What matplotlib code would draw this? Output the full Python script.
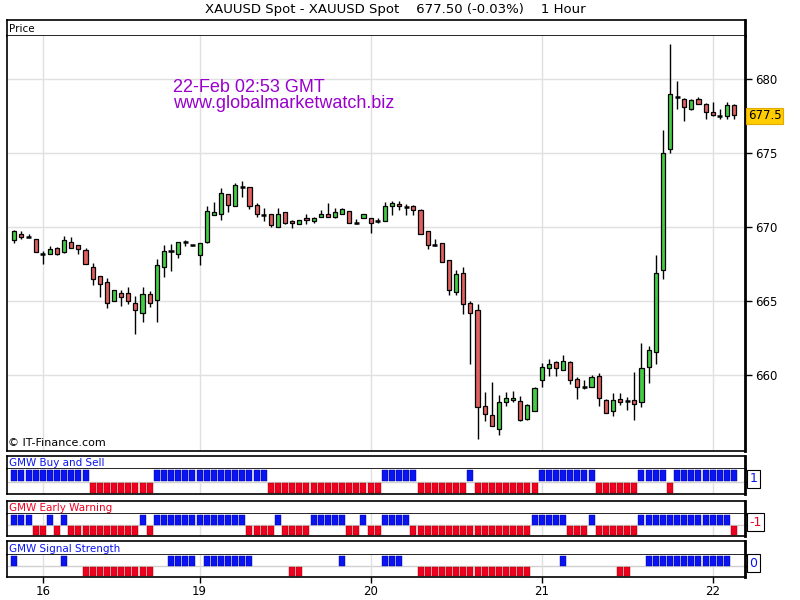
import matplotlib
matplotlib.use("Agg")
import matplotlib.pyplot as plt
from matplotlib.patches import Rectangle
import matplotlib.transforms as mtransforms

plt.rcParams['font.family'] = ['DejaVu Sans']

# ---------------- data ----------------
opens = [669.13, 669.53, 669.36, 669.20, 668.20, 668.20, 668.60, 668.31, 668.96, 668.76,
         668.42, 667.33, 666.67, 666.27, 665.00, 665.53, 665.53, 664.87, 664.20, 665.47,
         665.07, 667.33, 668.36, 668.20, 668.96, 668.76, 668.11, 668.96, 670.81, 670.88,
         672.23, 671.42, 672.70, 672.70, 671.49, 670.83, 670.88, 669.98, 671.01, 670.41,
         670.20, 670.61, 670.41, 670.68, 670.88, 670.68, 670.88, 671.08, 670.27, 670.61,
         670.61, 670.43, 670.40, 671.44, 671.56, 671.38, 671.44, 671.18, 669.71, 668.76,
         668.91, 667.78, 665.64, 666.93, 664.84, 664.38, 657.89, 657.28, 656.37, 658.22,
         658.29, 658.27, 657.05, 657.59, 659.68, 660.50, 660.92, 660.36, 660.92, 659.75,
         659.23, 659.19, 659.95, 658.29, 657.57, 658.42, 658.24, 658.29, 658.18, 660.54,
         661.55, 667.11, 675.28, 678.79, 678.63, 678.00, 678.63, 678.31, 677.77, 677.52,
         677.48, 678.27]
highs = [669.80, 669.73, 669.53, 669.22, 668.36, 668.73, 668.62, 669.42, 669.36, 668.80,
         668.56, 667.56, 666.67, 666.56, 665.73, 665.76, 665.96, 665.33, 665.96, 665.69,
         667.82, 668.76, 668.84, 669.00, 669.16, 668.82, 668.94, 671.44, 671.71, 672.66,
         672.23, 672.97, 673.10, 672.70, 671.62, 671.28, 670.90, 671.28, 671.03, 670.45,
         670.47, 670.90, 670.68, 671.15, 671.62, 671.28, 671.28, 671.10, 670.54, 670.90,
         670.63, 670.61, 671.70, 671.78, 671.78, 671.58, 671.46, 671.24, 669.73, 669.18,
         668.93, 667.80, 667.07, 667.33, 665.00, 664.78, 658.83, 659.53, 658.63, 658.83,
         658.90, 658.60, 658.02, 659.23, 660.79, 661.10, 660.94, 661.33, 660.94, 659.89,
         659.70, 659.98, 660.16, 658.40, 658.81, 658.81, 658.54, 660.20, 662.16, 661.98,
         668.08, 676.56, 682.36, 679.86, 678.70, 678.63, 678.81, 678.40, 678.45, 678.00,
         678.45, 678.29]
lows = [668.91, 669.18, 669.31, 668.30, 667.51, 668.20, 668.11, 668.24, 668.60, 668.16,
        667.51, 666.11, 665.31, 664.56, 665.00, 664.64, 664.80, 662.78, 663.58, 664.58,
        663.58, 666.64, 667.04, 667.91, 668.71, 668.70, 667.43, 668.90, 670.81, 670.45,
        670.99, 671.42, 672.00, 671.19, 670.65, 670.43, 670.00, 669.98, 670.18, 669.93,
        670.18, 670.18, 670.25, 670.66, 670.66, 670.61, 670.86, 670.25, 670.20, 670.59,
        669.59, 670.25, 670.38, 670.84, 671.16, 670.84, 670.84, 669.51, 668.51, 668.74,
        667.62, 665.44, 665.44, 664.16, 660.78, 655.72, 656.93, 656.55, 655.98, 657.89,
        658.20, 656.90, 656.98, 657.57, 659.19, 659.93, 659.93, 660.34, 659.41, 658.38,
        659.05, 659.17, 657.95, 657.45, 657.23, 657.97, 657.63, 656.96, 657.82, 659.46,
        660.74, 666.48, 674.98, 677.95, 677.17, 677.88, 678.29, 677.28, 677.53, 677.28,
        677.28, 677.32]
closes = [669.73, 669.33, 669.36, 668.33, 668.20, 668.53, 668.18, 669.13, 668.60, 668.53,
          667.51, 666.51, 666.13, 664.84, 665.73, 665.31, 665.00, 664.40, 665.51, 664.87,
          667.47, 668.40, 668.36, 669.00, 668.96, 668.76, 668.94, 671.08, 671.04, 672.30,
          671.49, 672.84, 672.70, 671.42, 670.88, 670.83, 670.14, 670.88, 670.25, 670.25,
          670.45, 670.45, 670.61, 670.88, 670.68, 671.01, 671.22, 670.27, 670.27, 670.88,
          670.27, 670.43, 671.40, 671.62, 671.42, 671.38, 671.18, 669.56, 668.78, 668.76,
          667.64, 665.73, 666.84, 664.80, 664.18, 657.83, 657.40, 656.55, 658.22, 658.43,
          658.43, 656.96, 658.00, 659.10, 660.56, 660.77, 660.50, 660.99, 659.68, 659.19,
          659.23, 659.89, 658.47, 657.45, 658.29, 658.20, 658.24, 658.04, 660.47, 661.71,
          666.88, 675.00, 678.97, 678.79, 678.09, 678.56, 678.31, 677.77, 677.55, 677.52,
          678.27, 677.55]

# indicator signals: 1 = blue (upper row), -1 = red (lower row), 0 = none
buy_sell = [1, 1, 1, 1, 1, 1, 1, 1, 1, 1, 1,
            -1, -1, -1, -1, -1, -1, -1, -1, -1,
            1, 1, 1, 1, 1, 1, 1, 1, 1, 1, 1, 1, 1, 1, 1, 1,
            -1, -1, -1, -1, -1, -1, -1, -1, -1, -1, -1, -1, -1, -1, -1, -1,
            1, 1, 1, 1, 1,
            -1, -1, -1, -1, -1, -1, -1,
            1,
            -1, -1, -1, -1, -1, -1, -1, -1, -1,
            1, 1, 1, 1, 1, 1, 1, 1,
            -1, -1, -1, -1, -1, -1,
            1, 1, 1, 1,
            -1,
            1, 1, 1, 1, 1, 1, 1, 1, 1]
early_warning = [1, 1, 1, -1, -1, 1, -1, 1,
                 -1, -1, -1, -1, -1, -1, -1, -1, -1, -1,
                 1, -1,
                 1, 1, 1, 1, 1, 1, 1, 1, 1, 1, 1, 1, 1,
                 -1, -1, -1, -1, 1, -1, -1, -1, -1,
                 1, 1, 1, 1, 1, -1, -1, 1, -1, -1,
                 1, 1, 1, 1,
                 -1, -1, -1, -1, -1, -1, -1, -1, -1, -1, -1, -1, -1, -1, -1, -1, -1,
                 1, 1, 1, 1, 1, -1, -1, -1, 1,
                 -1, -1, -1, -1, -1, -1,
                 1, 1, 1, 1, 1, 1, 1, 1, 1, 1, 1, 1, 1,
                 -1]
signal_strength = [1, 0, 0, 0, 0, 0, 0, 1, 0, 0,
                   -1, -1, -1, -1, -1, -1, -1, -1, -1, -1,
                   0, 0, 1, 1, 1, 1, 0, 1, 1, 1, 1, 1, 1, 1,
                   0, 0, 0, 0, 0, -1, -1, 0, 0, 0, 0, 0, 1, 0, 0, 0, 0, 0,
                   1, 1, 1, 0, 0,
                   -1, -1, -1, -1, -1, -1, -1, -1, -1, -1, -1, -1, -1, -1, -1, -1,
                   0, 0, 0, 0, 1, 0, 0, 0, 0, 0, 0, 0, -1, -1, 0, 0,
                   1, 1, 1, 1, 1, 1, 1, 1, 1, 1, 1, 1, 0]

day_ticks = [4, 26, 50, 74, 98]
day_labels = ["16", "19", "20", "21", "22"]
price_ticks = [660, 665, 670, 675, 680]
last_price = 677.5

title = "XAUUSD Spot - XAUUSD Spot    677.50 (-0.03%)    1 Hour"

# ---------------- styling ----------------
W, H = 800, 600
GREEN = "#44CC44"
RED_C = "#E06060"
BLUE = "#0A14F0"
RED = "#EE0020"
GRID = "#E0E0E0"
XLIM = (-1.02, 102.53)

fig = plt.figure(figsize=(8, 6), dpi=100)
fig.patch.set_facecolor("white")


def rect(x0, y0, x1, y1):
    return [x0 / W, 1 - y1 / H, (x1 - x0) / W, (y1 - y0) / H]


def header(y0, y1, label, color):
    ah = fig.add_axes(rect(7, y0, 745, y1))
    ah.set_xticks([])
    ah.set_yticks([])
    for s in ah.spines.values():
        s.set_linewidth(1.2)
    ah.spines['right'].set_linewidth(2)
    ah.text(0.003, 0.45, label, transform=ah.transAxes, ha="left", va="center",
            fontsize=7.5, color=color)
    return ah


fig.text(395 / W, 1 - 10 / H, title, ha="center", va="center", fontsize=9.5)

# ---------------- main price panel ----------------
header(20, 36, "Price", "black")
ax = fig.add_axes(rect(7, 36, 745, 451))
ax.set_xlim(*XLIM)
ax.set_ylim(654.88, 682.90)
for t in price_ticks:
    ax.axhline(t, color=GRID, lw=1, zorder=0)
for d in day_ticks:
    ax.axvline(d, color=GRID, lw=1, zorder=0)

bw = 0.58
for i, (o, h, l, c) in enumerate(zip(opens, highs, lows, closes)):
    ax.vlines(i, l, h, color="black", lw=1.0, zorder=2)
    if abs(c - o) < 1e-9:
        ax.hlines(o, i - 0.36, i + 0.36, color="black", lw=1.8, zorder=3)
    else:
        col = GREEN if c > o else RED_C
        ax.add_patch(Rectangle((i - bw / 2, min(o, c)), bw, abs(c - o),
                               facecolor=col, edgecolor="black", lw=0.9, zorder=3))

ax.yaxis.tick_right()
ax.set_yticks(price_ticks)
ax.set_yticklabels([str(t) for t in price_ticks], fontsize=8.5)
ax.tick_params(axis="y", direction="out", length=5, width=1, pad=2)
ax.set_xticks([])
for s in ax.spines.values():
    s.set_linewidth(1.2)
ax.spines['right'].set_linewidth(2)
ax.spines['top'].set_visible(False)

trans = mtransforms.blended_transform_factory(ax.transAxes, ax.transData)
ax.text(1.004, last_price, "677.5", transform=trans, ha="left", va="center",
        fontsize=8.5, color="black", zorder=5,
        bbox=dict(boxstyle="square,pad=0.15", facecolor="#FFCC00", edgecolor="#E0A800", lw=0.8))

wm_font = ['Liberation Sans', 'DejaVu Sans']
fig.text(173 / W, 1 - 87 / H, "22-Feb 02:53 GMT", ha="left", va="center",
         fontsize=13, color="#9900CC", family=wm_font)
fig.text(173 / W, 1 - 104 / H, "www.globalmarketwatch.biz", ha="left", va="center",
         fontsize=13, color="#9900CC", family=wm_font)
fig.text(8 / W, 1 - 443 / H, "© IT-Finance.com", ha="left", va="center", fontsize=8)

# ---------------- indicator panels ----------------
panels = [
    (456, 469, 494, "GMW Buy and Sell", BLUE, buy_sell, "1", BLUE),
    (501, 514, 536, "GMW Early Warning", RED, early_warning, "-1", RED),
    (541, 555, 577, "GMW Signal Strength", BLUE, signal_strength, "0", BLUE),
]
for k, (y0, ym, y1, name, ncol, sig, lab, lcol) in enumerate(panels):
    header(y0, ym, name, ncol)
    ap = fig.add_axes(rect(7, ym, 745, y1))
    ap.set_xlim(*XLIM)
    ap.set_ylim(-1, 1)
    ap.axhline(0, color="#D0D0D0", lw=1, zorder=0)
    for d in day_ticks:
        ap.axvline(d, color=GRID, lw=1, zorder=0)
    up = [i for i, v in enumerate(sig) if v > 0]
    dn = [i for i, v in enumerate(sig) if v < 0]
    ap.bar(up, 0.9, bottom=0.03, width=0.84, color=BLUE, edgecolor="#0000A0", lw=0.3, zorder=2)
    ap.bar(dn, -0.8, bottom=-0.12, width=0.84, color=RED, edgecolor="#A00000", lw=0.3, zorder=2)
    ap.yaxis.tick_right()
    ap.set_yticks([0])
    ap.set_yticklabels([""])
    ap.tick_params(axis="y", direction="out", length=4, width=1)
    for s in ap.spines.values():
        s.set_linewidth(1.2)
    ap.spines['right'].set_linewidth(2)
    ap.spines['top'].set_visible(False)
    ap.text(1.006, 0.62, lab, transform=ap.transAxes, ha="left", va="center",
            fontsize=9, color=lcol,
            bbox=dict(boxstyle="square,pad=0.2", facecolor="white", edgecolor="black", lw=0.8))
    if k == 2:
        ap.set_xticks(day_ticks)
        ap.set_xticklabels(day_labels, fontsize=8.5)
        ap.tick_params(axis="x", direction="out", length=4, width=1, pad=2)
    else:
        ap.set_xticks([])

fig.savefig("out.png", dpi=100)
